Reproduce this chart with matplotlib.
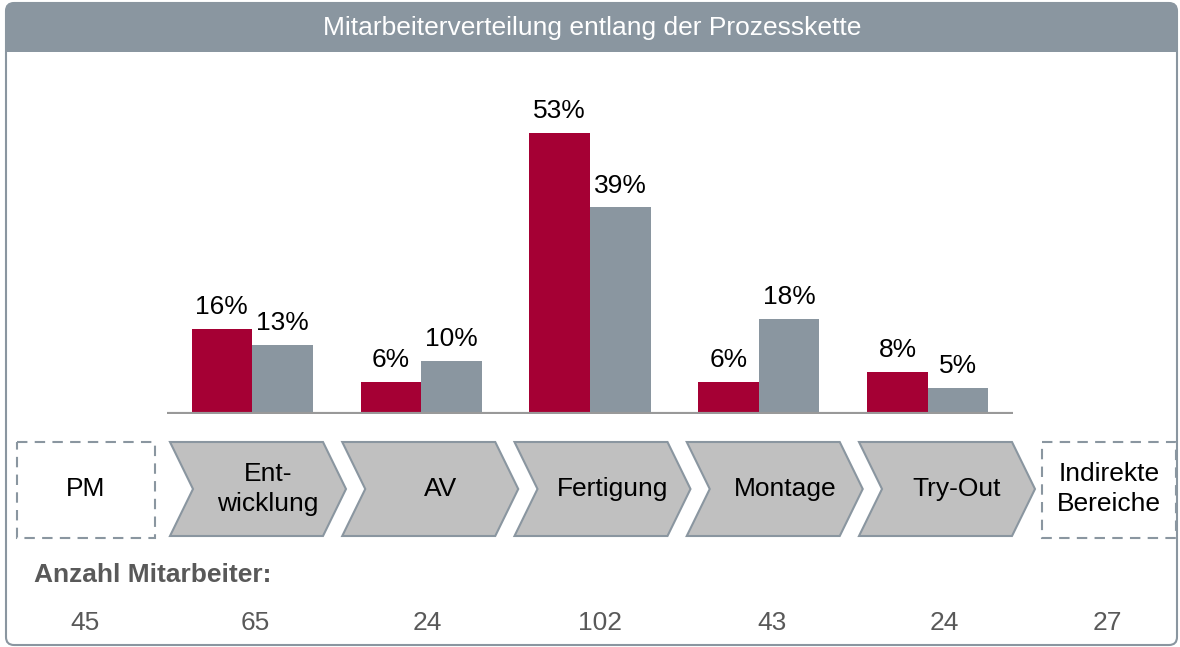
import numpy as np
import matplotlib.pyplot as plt
from matplotlib.patches import Polygon, Rectangle, FancyBboxPatch

plt.rcParams['font.family'] = ['Liberation Sans', 'DejaVu Sans']

# Daten
titel = 'Mitarbeiterverteilung entlang der Prozesskette'
prozess = ['Ent-\nwicklung', 'AV', 'Fertigung', 'Montage', 'Try-Out']
anteil_rot = [16, 6, 53, 6, 8]
anteil_grau = [13, 10, 39, 18, 5]
bereiche = ['PM'] + prozess + ['Indirekte\nBereiche']
anzahl = [45, 65, 24, 102, 43, 24, 27]

ROT = '#A50034'
GRAU = '#8A96A0'
CHEVRON = '#C0C0C0'
TEXTGRAU = '#595959'
FS = 19

W, H = 1180, 647
fig = plt.figure(figsize=(W / 100, H / 100), dpi=100)

# Hintergrund in Pixelkoordinaten
bg = fig.add_axes([0, 0, 1, 1])
bg.set_xlim(0, W)
bg.set_ylim(H, 0)
bg.axis('off')

# Rahmen und Titelleiste
bg.add_patch(FancyBboxPatch((6, 3), 1171, 642, boxstyle='round,pad=0,rounding_size=8',
                            facecolor='white', edgecolor=GRAU, lw=1.5))
bg.add_patch(FancyBboxPatch((6, 3), 1171, 49, boxstyle='round,pad=0,rounding_size=8',
                            facecolor=GRAU, edgecolor='none'))
bg.add_patch(Rectangle((6, 30), 1171, 22, facecolor=GRAU, edgecolor='none'))
bg.text(592, 28, titel, color='white', fontsize=FS, ha='center', va='center')

# Prozesskette (Chevrons)
top, bot = 442, 536
mid = (top + bot) / 2
d, wb = 23, 153
for i, name in enumerate(prozess):
    x0 = 170 + i * 172.25
    pts = [(x0, top), (x0 + wb, top), (x0 + wb + d, mid), (x0 + wb, bot), (x0, bot), (x0 + d, mid)]
    bg.add_patch(Polygon(pts, closed=True, facecolor=CHEVRON, edgecolor=GRAU, lw=1.5))
    bg.text(x0 + d + wb / 2 - 1.5, mid, name, fontsize=FS, ha='center', va='center', linespacing=1.3)

# gestrichelte Boxen
for x0, x1 in [(17, 155), (1042, 1176)]:
    bg.add_patch(Rectangle((x0, 442), x1 - x0, 96, facecolor='none', edgecolor=GRAU,
                           lw=1.5, linestyle=(0, (5, 3.5))))
bg.text(86, mid, bereiche[0], fontsize=FS, ha='center', va='center')
bg.text(1109, mid, bereiche[-1], fontsize=FS, ha='center', va='center', linespacing=1.3)

# Anzahl Mitarbeiter
bg.text(34, 575, 'Anzahl Mitarbeiter:', fontsize=FS, fontweight='bold', color=TEXTGRAU,
        ha='left', va='center')
xs = [85] + [170 + i * 172.25 + 85 for i in range(len(prozess))] + [1107]
for x, n in zip(xs, anzahl):
    bg.text(x, 623, str(n), fontsize=FS, color=TEXTGRAU, ha='center', va='center')

# Balkendiagramm
ax = fig.add_axes([167 / W, (H - 414) / H, 846 / W, 318 / H])
ax.set_facecolor('none')
x = np.arange(len(prozess))
bw = 0.358
b1 = ax.bar(x - bw / 2, anteil_rot, bw, color=ROT)
b2 = ax.bar(x + bw / 2, anteil_grau, bw, color=GRAU)
for bars, vals in [(b1, anteil_rot), (b2, anteil_grau)]:
    for b, v in zip(bars, vals):
        ax.annotate(f'{v}%', (b.get_x() + b.get_width() / 2, v), xytext=(0, 7),
                    textcoords='offset points', ha='center', va='bottom', fontsize=FS)
ax.axhline(0, color='#999999', lw=3, zorder=3)
ax.set_xlim(-0.503, 4.503)
ax.set_ylim(0, 60)
ax.axis('off')

fig.savefig('out.png', dpi=100)
